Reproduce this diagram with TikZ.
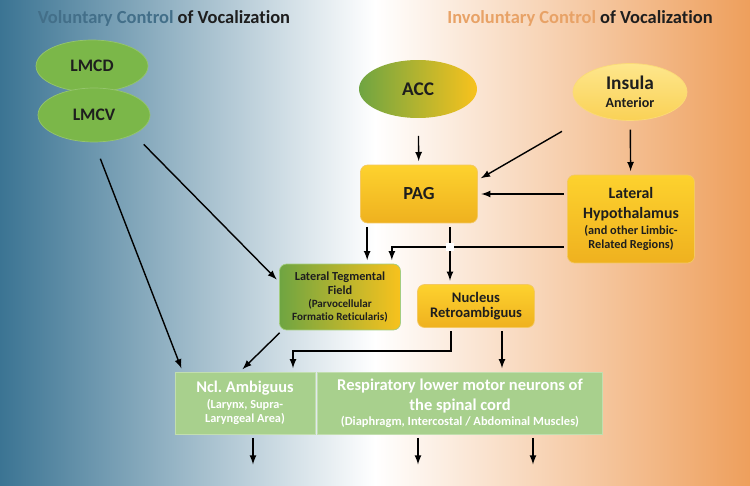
\documentclass[tikz,border=0pt]{standalone}
\usepackage{fontspec}
\setmainfont{Carlito}[Ligatures = NoCommon]
\usetikzlibrary{shapes.geometric}

\definecolor{bgblue}{HTML}{3B7493}
\definecolor{bgorange}{HTML}{EE9F5C}
\definecolor{voltext}{HTML}{436F89}
\definecolor{involtext}{HTML}{E8A266}
\definecolor{leafgreen}{HTML}{7BB749}
\definecolor{gold}{HTML}{F8C21D}
\definecolor{goldlight}{HTML}{FDD22E}
\definecolor{golddark}{HTML}{EFB11F}
\definecolor{motorgreen}{HTML}{A8D08D}
\definecolor{ink}{HTML}{1E1E1E}

\begin{document}
\lineskiplimit=-20pt
\begin{tikzpicture}[> = latex, x = 0.02cm, y = -0.02cm, font = \bfseries, text = ink,
	oval/.style = {ellipse, inner sep = 0pt, align = center},
	box/.style = {rectangle, rounded corners = 4pt, inner sep = 0pt, align = center,
		draw = golddark!70!white, top color = goldlight, bottom color = golddark},
	motor/.style = {rectangle, inner sep = 0pt, align = center, text = white,
		fill = motorgreen, draw = motorgreen!70!white},
	link/.style = {->, line width = 0.8pt, shorten <= 2pt, shorten >= 2pt}]

	% Background
	
	\shade [left color = bgblue, right color = bgorange, middle color = white] (0, 0) rectangle (750, 486);
	
	% Titles
	
	\node (voltitle) at (164, 18) {\fontsize{10.5}{12}\selectfont\textcolor{voltext}{Voluntary Control} of Vocalization};
	\node (involtitle) at (580, 18) {\fontsize{10.5}{12}\selectfont\textcolor{involtext}{Involuntary Control} of Vocalization};
	
	% Cortical areas
	
	\node [oval, fill = leafgreen, draw = leafgreen!80!white, minimum width = 2.24cm, minimum height = 1.04cm,
		font = \fontsize{10}{12}\bfseries] (LMCD) at (92, 66) {LMCD};
	\node [oval, fill = leafgreen, draw = leafgreen!80!white, minimum width = 2.24cm, minimum height = 1.08cm,
		font = \fontsize{10}{12}\bfseries] (LMCV) at (94, 115) {LMCV};
	\node [oval, left color = leafgreen!90!black, right color = gold, minimum width = 2.36cm, minimum height = 1.16cm,
		font = \fontsize{11}{13}\bfseries] (ACC) at (418, 89) {ACC};
	\node [oval, top color = goldlight!55!white, bottom color = gold!75!white, draw = gold!60!white,
		minimum width = 2.28cm, minimum height = 1.14cm, font = \fontsize{8}{10}\bfseries] (Insula) at (630, 92)
		{\fontsize{11}{12}\selectfont Insula\\ Anterior};
	
	% Midbrain and limbic relays
	
	\node [box, minimum width = 2.34cm, minimum height = 1.16cm, font = \fontsize{10.5}{13}\bfseries] (PAG) at (419, 194) {PAG};
	\node [box, minimum width = 2.54cm, minimum height = 1.76cm, font = \fontsize{7}{8}\bfseries] (LH) at (631, 219)
		{\fontsize{9}{10}\selectfont Lateral\\[3.3pt] \fontsize{9}{10}\selectfont Hypothalamus\\[1pt] (and other Limbic-\\ Related Regions)};
	\node [box, left color = leafgreen!90!black, right color = gold, draw = leafgreen!70!white,
		minimum width = 2.42cm, minimum height = 1.32cm, font = \fontsize{6.3}{7.4}\bfseries] (LTF) at (340, 297)
		{\fontsize{7}{8}\selectfont Lateral Tegmental\\[1.1pt] \fontsize{7}{8}\selectfont Field\\ (Parvocellular\\ Formatio Reticularis)};
	\node [box, minimum width = 2.34cm, minimum height = 0.86cm, font = \fontsize{8.3}{8.5}\bfseries] (NR) at (476, 306)
		{Nucleus\\ Retroambiguus};
	
	% Motor output
	
	\node [motor, minimum width = 2.8cm, minimum height = 1.24cm, font = \fontsize{7}{8}\bfseries] (NA) at (245, 403)
		{\fontsize{9.3}{10}\selectfont Ncl.\ Ambiguus\\[1pt] (Larynx, Supra-\\ Laryngeal Area)};
	\node [motor, minimum width = 5.7cm, minimum height = 1.24cm, font = \fontsize{7.1}{8.5}\bfseries] (Resp) at (460, 403)
		{\fontsize{9.4}{10}\selectfont Respiratory lower motor neurons of\\[2.8pt] \fontsize{9.4}{10}\selectfont the spinal cord\\ (Diaphragm, Intercostal / Abdominal Muscles)};
	
	\coordinate (outNA) at (253, 468);
	\coordinate (outRespA) at (418, 468);
	\coordinate (outRespB) at (533, 468);
	
	% Connections
	
	\coordinate (lhout) at ([yshift = -0.56cm] LH.west);
	\coordinate (pagout) at ([xshift = 0.62cm] PAG.south);
	
	\draw [link, shorten <= 10pt] (ACC) -- (PAG);
	\draw [link, shorten <= 20pt] (Insula) -- ([yshift = 0.28cm] PAG.east);
	\draw [link, shorten <= 5pt] (Insula) -- (LH);
	\draw [link] (LH.west |- PAG.east) -- (PAG.east);
	\draw [link] (lhout) -| ([xshift = -0.18cm] LTF.north east);
	\draw [link] ([xshift = 0.14cm] PAG.south west) -- ([xshift = 0.14cm] PAG.south west |- LTF.north);
	\draw [link] (pagout) -- (pagout |- NR.north);
	\node [fill = white, inner sep = 0pt, minimum size = 5pt] (cross) at (pagout |- lhout) {};
	
	\draw [link, shorten <= 8pt] (LMCV.south east) -- ([yshift = 0.3cm] LTF.west);
	\draw [link, shorten <= 10pt] (LMCV.south) -- ([xshift = 0.16cm] NA.north west);
	\draw [link] ([xshift = 0.06cm] LTF.south west) -- ([xshift = -0.1cm] NA.north);
	\draw [link] ([xshift = -0.5cm] NR.south) -- ++ (0, 23) -| ([xshift = 0.96cm] NA.north);
	\draw [link] ([xshift = 0.52cm] NR.south) -- ([xshift = 0.52cm] NR.south |- Resp.north);
	
	\draw [link] (NA.south -| outNA) -- (outNA);
	\draw [link] (Resp.south -| outRespA) -- (outRespA);
	\draw [link] (Resp.south -| outRespB) -- (outRespB);
	
\end{tikzpicture}
\end{document}
